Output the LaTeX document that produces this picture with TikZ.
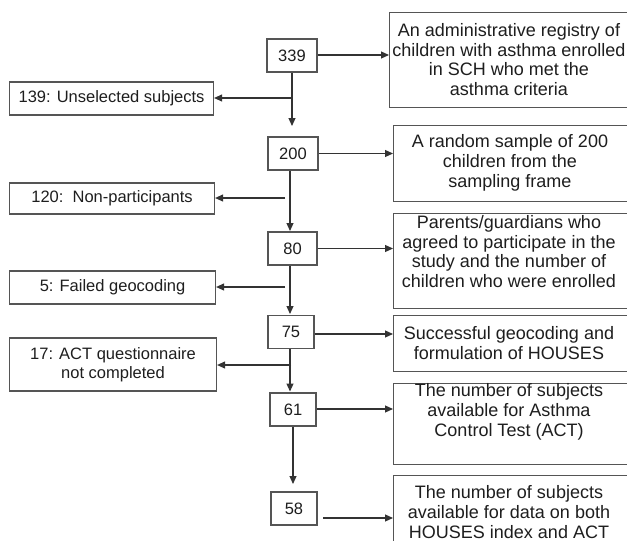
\documentclass[tikz,border=0pt]{standalone}
\usepackage{fontspec}
\setmainfont{Liberation Sans}
\usetikzlibrary{arrows.meta,calc}
\definecolor{linec}{HTML}{333333}
\definecolor{boxc}{HTML}{555555}
\definecolor{txtc}{HTML}{1E1E1E}
\begin{document}
\begin{tikzpicture}[x=1pt,y=-1pt,
  every node/.style={font=\fontsize{16.5}{19.5}\selectfont, text=txtc},
  cbox/.style={draw=boxc, line width=1.1pt, minimum height=33pt, inner sep=0pt},
  lbox/.style={draw=boxc, line width=1.1pt, anchor=west, inner sep=0pt, align=center},
  rbox/.style={draw=boxc, line width=1.1pt, anchor=north west, minimum width=260pt, inner sep=0pt},
  rtext/.style={align=center, inner sep=0pt, font=\fontsize{18}{19.7}\selectfont},
  arr/.style={draw=linec, line width=1.1pt, -{Triangle[length=8pt,width=7pt]}}
]
\useasboundingbox (0,0) rectangle (627,541);
\clip (0,0) rectangle (627,541);
\fill[white] (0,0) rectangle (627,541);

% centre boxes
\node[cbox, minimum width=50pt] (n339) at (292,55.5) {339};
\node[cbox, minimum width=50pt] (n200) at (293,153.5) {200};
\node[cbox, minimum width=49pt] (n80) at (292.5,248.5) {80};
\node[cbox, minimum width=46pt] (n75) at (291,332) {75};
\node[cbox, minimum width=46pt] (n61) at (293,409.5) {61};
\node[cbox, minimum width=46pt] (n58) at (294,508.5) {58};

% left boxes
\node[lbox, minimum width=204pt, minimum height=33pt] (l139) at (9,98.5) {139: Unselected subjects};
\node[lbox, minimum width=205pt, minimum height=31pt] (l120) at (9,198.5) {120:\ \ Non-participants};
\node[lbox, minimum width=206pt, minimum height=33pt] (l5) at (9,287.5) {5: Failed geocoding};
\node[lbox, minimum width=207pt, minimum height=53pt] (l17) at (9,364.5) {17: ACT questionnaire\\not completed};

% right boxes
\node[rbox, minimum height=95pt] (r1) at (389,12) {};
\node[rtext] (t1) at (509,59.5) {An administrative registry of\\children with asthma enrolled\\in SCH who met the\\asthma criteria};
\node[rbox, minimum height=76pt] (r2) at (393,125) {};
\node[rtext] (t2) at (510,163) {A random sample of 200\\children from the\\sampling frame};
\node[rbox, minimum height=95pt] (r3) at (393,213) {};
\node[rtext] (t3) at (509,251.5) {Parents/guardians who\\agreed to participate in the\\study and the number of\\children who were enrolled};
\node[rbox, minimum height=56pt] (r4) at (393,315) {};
\node[rtext] (t4) at (509,343) {Successful geocoding and\\formulation of HOUSES};
\node[rbox, minimum height=81pt] (r5) at (393,383) {};
\node[rtext] (t5) at (509,412) {The number of subjects\\available for Asthma\\Control Test (ACT)};
\node[rbox, minimum height=76pt] (r6) at (393,475) {};
\node[rtext] (t6) at (509,512) {The number of subjects\\available for data on both\\HOUSES index and ACT};

% vertical flow
\coordinate (a200) at (292,126);
\coordinate (a80) at (290,231);
\coordinate (a75) at (290,314);
\coordinate (a61) at (290,391.5);
\coordinate (a58) at (293,484);
\draw[arr] (n339.south) -- (a200);
\draw[arr] (n200.south -| a80) -- (a80);
\draw[arr] (n80.south -| a75) -- (a75);
\draw[arr] (n75.south -| a61) -- (a61);
\draw[arr] (n61.south -| a58) -- (a58);

% branches to the left
\coordinate (b139) at (292,98);
\coordinate (b120) at (285,198);
\coordinate (b5) at (285,287);
\coordinate (b17) at (291,365);
\draw[arr] (b139) -- (b139 -| l139.east);
\draw[arr] (b120) -- (b120 -| l120.east);
\draw[arr] (b5) -- (b5 -| l5.east);
\draw[arr] (b17) -- (b17 -| l17.east);

% arrows to the right
\coordinate (s339) at ($(n339.east)+(0,-0.5)$);
\draw[arr] (s339) -- (s339 -| r1.west);
\draw[arr] (n200.east) -- (n200.east -| r2.west);
\draw[arr] (n80.east) -- (n80.east -| r3.west);
\coordinate (s75) at ($(n75.east)+(0,2)$);
\draw[arr] (s75) -- (s75 -| r4.west);
\coordinate (s61) at ($(n61.east)+(0,-0.5)$);
\draw[arr] (s61) -- (s61 -| r5.west);
\coordinate (s58) at (323,518);
\draw[arr] (s58) -- (s58 -| r6.west);
\end{tikzpicture}
\end{document}
